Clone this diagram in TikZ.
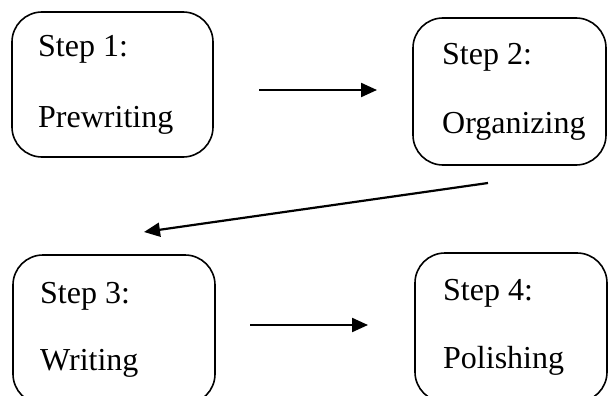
\documentclass[tikz,border=0pt]{standalone}
\usepackage{fontspec}
\setmainfont{Liberation Serif}
\usetikzlibrary{arrows.meta}
\begin{document}
\begin{tikzpicture}[x=1pt,y=-1pt,
  stepbox/.style={draw=black, line width=1.6pt, rounded corners=30pt},
  lbl/.style={anchor=base west, inner sep=0pt, font=\fontsize{32}{38}\selectfont},
  flow/.style={line width=2.2pt, -{Triangle[length=16pt,width=14pt]}}]
\useasboundingbox (0,0) rectangle (608,396);
\clip (0,0) rectangle (608,396);
% boxes
\draw[stepbox] (12,12) rectangle (213,157);
\draw[stepbox] (413,18) rectangle (606,165);
\draw[stepbox] (13,255) rectangle (215,404);
\draw[stepbox] (415,253) rectangle (607,402);
% texts
\node[lbl] (s1) at (38,57) {Step 1:};
\node[lbl] (t1) at (38,128) {Prewriting};
\node[lbl] (s2) at (442,65) {Step 2:};
\node[lbl] (t2) at (442,133) {Organizing};
\node[lbl] (s3) at (40,303) {Step 3:};
\node[lbl] (t3) at (40,370) {Writing};
\node[lbl] (s4) at (443,300) {Step 4:};
\node[lbl] (t4) at (443,368) {Polishing};
% arrow end points
\coordinate (a1s) at (259,90);
\coordinate (a1e) at (377,90);
\coordinate (a2s) at (488,183);
\coordinate (a2e) at (144,232);
\coordinate (a3s) at (250,325);
\coordinate (a3e) at (368,325);
\draw[flow] (a1s) -- (a1e);
\draw[flow] (a2s) -- (a2e);
\draw[flow] (a3s) -- (a3e);
\end{tikzpicture}
\end{document}
